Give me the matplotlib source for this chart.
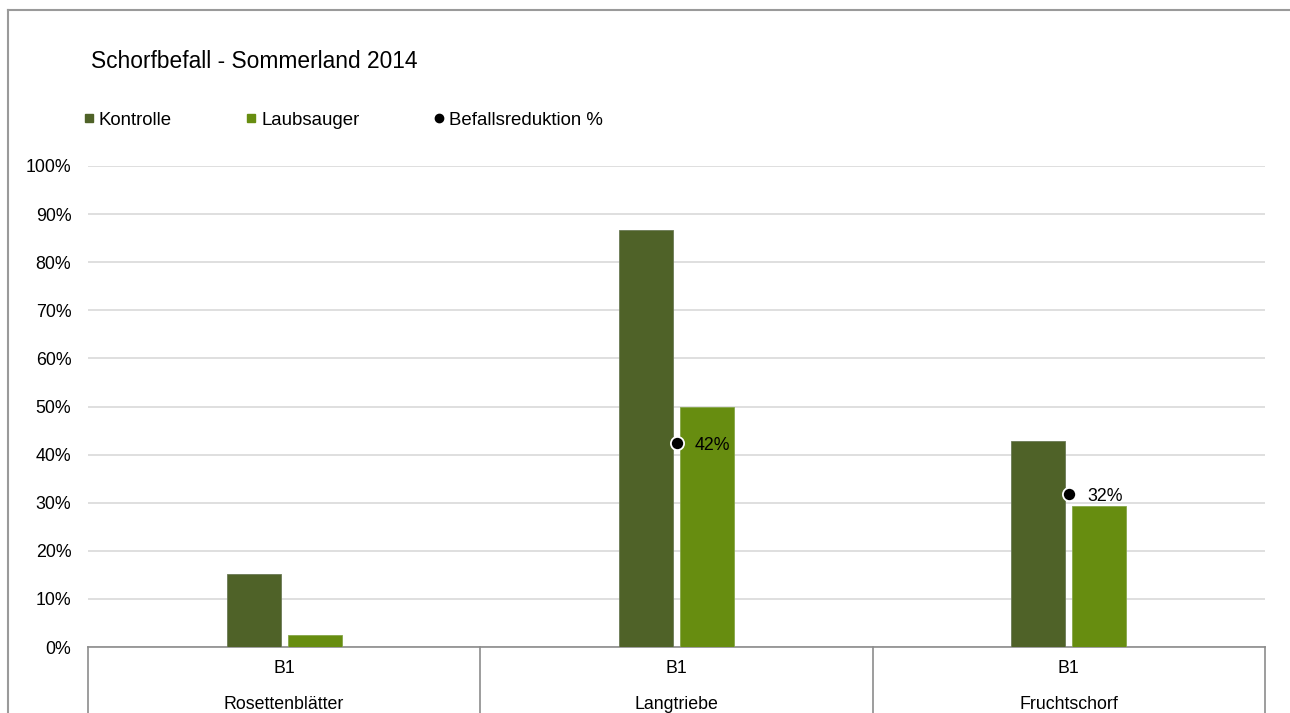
import numpy as np
import matplotlib.pyplot as plt
from matplotlib.lines import Line2D
from matplotlib.transforms import blended_transform_factory

plt.rcParams['font.family'] = ['Liberation Sans', 'DejaVu Sans']

title = "Schorfbefall - Sommerland 2014"
categories = ["Rosettenblätter", "Langtriebe", "Fruchtschorf"]
sublabels = ["B1", "B1", "B1"]
kontrolle = [15.1, 86.6, 42.8]
laubsauger = [2.5, 49.9, 29.3]
reduktion = [np.nan, 42.4, 31.9]
yticks = [0, 10, 20, 30, 40, 50, 60, 70, 80, 90, 100]

c_kon = "#4f6228"
c_lau = "#678d10"

W, H = 1290, 713
fig = plt.figure(figsize=(W / 100, H / 100), dpi=100)
ax = fig.add_axes([88 / W, 1 - 647 / H, (1265 - 88) / W, (647 - 166) / H])

x = np.arange(len(categories))
bw = 0.1375
off = 0.078
ax.bar(x - off, kontrolle, bw, color=c_kon, edgecolor="#6b7a55", lw=0.6, zorder=3)
ax.bar(x + off, laubsauger, bw, color=c_lau, edgecolor="#86a64a", lw=0.6, zorder=3)
ax.scatter(x, reduktion, s=90, color="black", edgecolor="white", lw=1.3, zorder=5)
for xi, r in zip(x, reduktion):
    if np.isnan(r):
        continue
    ax.annotate(f"{r:.0f}%", (xi, r), xytext=(13, -2), textcoords="offset points",
                ha="left", va="center", fontsize=12.8, zorder=6)

ax.set_xlim(-0.5, len(categories) - 0.5)
ax.set_ylim(0, 100)
ax.set_yticks(yticks)
ax.set_yticklabels([f"{v}%" for v in yticks], fontsize=12.8)
ax.tick_params(axis="y", length=0, pad=12)
ax.set_xticks([])
ax.yaxis.grid(True, color="#d9d9d9", lw=1.2, zorder=0)
for s in ["top", "right", "left"]:
    ax.spines[s].set_visible(False)
ax.spines["bottom"].set_color("#8c8c8c")
ax.spines["bottom"].set_linewidth(1.2)

# category table below the axis
tr = blended_transform_factory(ax.transData, ax.transAxes)
for xb in np.arange(len(categories) + 1) - 0.5:
    ax.plot([xb, xb], [0, -0.2], transform=tr, color="#8c8c8c", lw=1.2, clip_on=False)
for xi, sub, cat in zip(x, sublabels, categories):
    ax.text(xi, -0.044, sub, transform=tr, ha="center", va="center", fontsize=12.8)
    ax.text(xi, -0.119, cat, transform=tr, ha="center", va="center", fontsize=12.8)

fig.text(91 / W, 1 - 62 / H, title, fontsize=16.4, ha="left", va="center")

handles = [
    Line2D([], [], marker="s", ls="none", color=c_kon, markersize=5.5),
    Line2D([], [], marker="s", ls="none", color=c_lau, markersize=5.5),
    Line2D([], [], marker="o", ls="none", color="black", markersize=6),
]
fig.legend(handles, ["Kontrolle", "Laubsauger", "Befallsreduktion %"], ncol=3,
           loc="center left", bbox_to_anchor=(84 / W, 1 - 120 / H), frameon=False,
           fontsize=13.4, handlelength=0.5, handletextpad=0.3, columnspacing=4.0,
           borderpad=0, borderaxespad=0)

# outer chart frame
fig.add_artist(Line2D([8 / W, 1], [1 - 10 / H, 1 - 10 / H], transform=fig.transFigure,
                      color="#9a9a9a", lw=1.5))
fig.add_artist(Line2D([8 / W, 8 / W], [0, 1 - 10 / H], transform=fig.transFigure,
                      color="#9a9a9a", lw=1.5))

fig.savefig("out.png", dpi=100)
